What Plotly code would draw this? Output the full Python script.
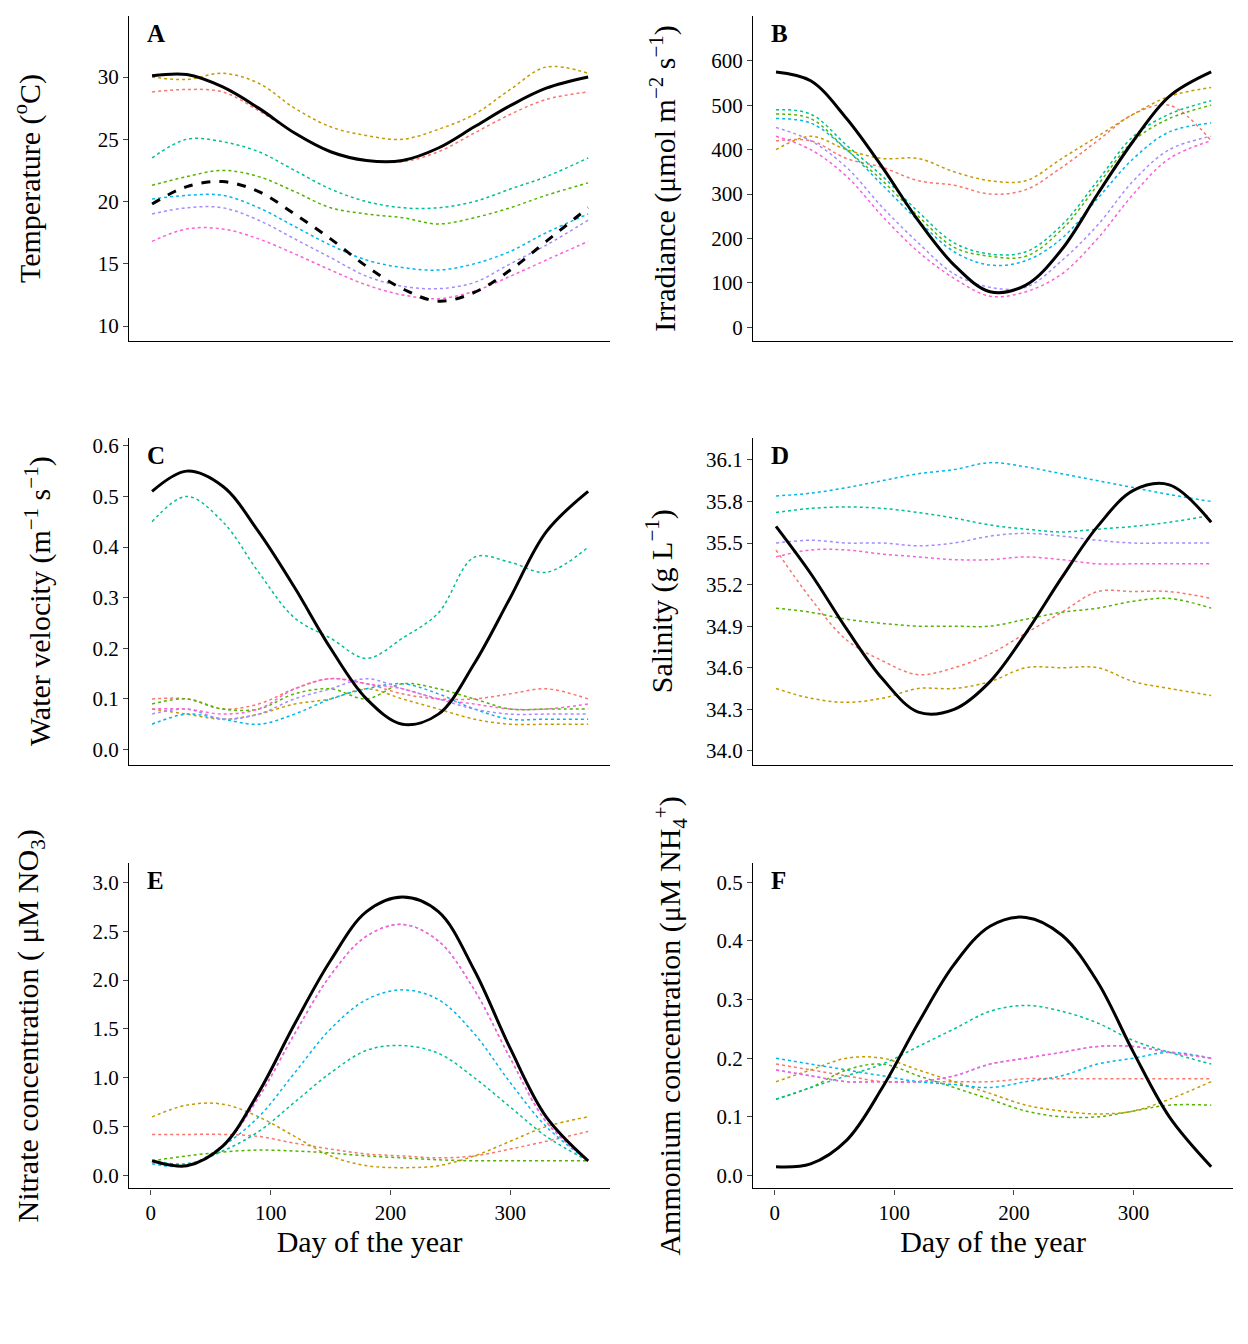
import plotly.graph_objects as go

days = [1, 30, 60, 90, 120, 150, 180, 210, 240, 270, 300, 330, 365]
colors = ["#F8766D", "#C49A00", "#53B400", "#00C094", "#00B6EB", "#A58AFF", "#FB61D7"]

# Panel A temperature
A_model = [30.1, 30.2, 29.2, 27.5, 25.5, 24.0, 23.3, 23.3, 24.3, 26.0, 27.7, 29.1, 30.0]
A_model2 = [19.8, 21.2, 21.6, 20.8, 19.0, 17.0, 14.8, 13.0, 12.0, 12.7, 14.5, 16.8, 19.5]
A_series = [
    [28.8, 29.0, 28.8, 27.3, 25.5, 24.0, 23.3, 23.2, 24.0, 25.5, 27.0, 28.2, 28.8],
    [30.0, 29.8, 30.3, 29.5, 27.5, 26.0, 25.3, 25.0, 25.8, 27.0, 29.0, 30.8, 30.3],
    [21.3, 22.0, 22.5, 22.0, 20.8, 19.5, 19.0, 18.7, 18.2, 18.7, 19.5, 20.5, 21.5],
    [23.5, 25.0, 24.8, 24.0, 22.5, 21.0, 20.0, 19.5, 19.5, 20.0, 21.0, 22.0, 23.5],
    [20.2, 20.5, 20.5, 19.5, 18.0, 16.5, 15.3, 14.7, 14.5, 15.0, 16.0, 17.5, 19.0],
    [19.0, 19.5, 19.5, 18.5, 17.0, 15.5, 14.0, 13.2, 13.0, 13.5, 15.0, 16.5, 18.5],
    [16.8, 17.8, 17.8, 17.0, 15.8, 14.5, 13.3, 12.5, 12.2, 12.8, 14.0, 15.3, 16.8],
]
# Panel B irradiance
B_model = [575, 555, 470, 360, 240, 140, 80, 95, 175, 300, 420, 520, 575]
B_series = [
    [420, 420, 380, 360, 330, 320, 300, 310, 360, 420, 480, 500, 420],
    [400, 430, 400, 380, 380, 350, 330, 330, 380, 430, 480, 520, 540],
    [480, 470, 400, 330, 250, 180, 160, 160, 220, 320, 420, 470, 500],
    [490, 480, 410, 340, 260, 190, 165, 170, 230, 330, 430, 480, 510],
    [470, 460, 400, 320, 240, 170, 140, 150, 200, 290, 380, 440, 460],
    [450, 420, 360, 270, 190, 120, 90, 90, 150, 230, 330, 400, 430],
    [430, 400, 340, 250, 170, 110, 70, 80, 120, 200, 300, 380, 420],
]
# Panel C water velocity
C_model = [0.51, 0.55, 0.52, 0.43, 0.32, 0.20, 0.10, 0.05, 0.07, 0.17, 0.30, 0.43, 0.51]
C_series = [
    [0.10, 0.10, 0.08, 0.09, 0.12, 0.14, 0.13, 0.11, 0.10, 0.10, 0.11, 0.12, 0.10],
    [0.08, 0.07, 0.06, 0.07, 0.09, 0.10, 0.12, 0.10, 0.08, 0.06, 0.05, 0.05, 0.05],
    [0.09, 0.10, 0.08, 0.08, 0.11, 0.12, 0.10, 0.13, 0.12, 0.10, 0.08, 0.08, 0.08],
    [0.45, 0.50, 0.45, 0.35, 0.26, 0.22, 0.18, 0.22, 0.27, 0.38, 0.37, 0.35, 0.40],
    [0.05, 0.07, 0.06, 0.05, 0.07, 0.10, 0.12, 0.13, 0.11, 0.08, 0.06, 0.06, 0.06],
    [0.07, 0.08, 0.06, 0.07, 0.10, 0.12, 0.14, 0.12, 0.10, 0.08, 0.07, 0.07, 0.07],
    [0.08, 0.08, 0.07, 0.08, 0.12, 0.14, 0.13, 0.12, 0.10, 0.09, 0.08, 0.08, 0.09],
]
# Panel D salinity
D_model = [35.62, 35.28, 34.88, 34.52, 34.28, 34.30, 34.50, 34.85, 35.25, 35.62, 35.88, 35.92, 35.65]
D_series = [
    [35.45, 35.10, 34.80, 34.65, 34.55, 34.60, 34.70, 34.85, 35.00, 35.15, 35.15, 35.15, 35.10],
    [34.45, 34.38, 34.35, 34.38, 34.45, 34.45, 34.50, 34.60, 34.60, 34.60, 34.50, 34.45, 34.40],
    [35.03, 35.00, 34.95, 34.92, 34.90, 34.90, 34.90, 34.95, 35.00, 35.03, 35.08, 35.10, 35.03],
    [35.72, 35.75, 35.76, 35.75, 35.72, 35.68, 35.63, 35.60, 35.58, 35.60, 35.62, 35.65, 35.70],
    [35.84, 35.86, 35.90, 35.95, 36.00, 36.03, 36.08, 36.05, 36.00, 35.95, 35.90, 35.85, 35.80],
    [35.50, 35.52, 35.50, 35.50, 35.48, 35.50, 35.55, 35.57, 35.55, 35.52, 35.50, 35.50, 35.50],
    [35.40, 35.45, 35.45, 35.42, 35.40, 35.38, 35.38, 35.40, 35.38, 35.35, 35.35, 35.35, 35.35],
]
# Panel E nitrate
E_model = [0.15, 0.10, 0.30, 0.85, 1.55, 2.20, 2.70, 2.85, 2.70, 2.10, 1.30, 0.60, 0.15]
E_series = [
    [0.42, 0.42, 0.42, 0.40, 0.33, 0.27, 0.22, 0.20, 0.18, 0.20, 0.27, 0.35, 0.45],
    [0.60, 0.72, 0.73, 0.60, 0.40, 0.20, 0.10, 0.08, 0.10, 0.20, 0.35, 0.50, 0.60],
    [0.15, 0.20, 0.24, 0.26, 0.25, 0.23, 0.20, 0.18, 0.16, 0.15, 0.15, 0.15, 0.15],
    [0.15, 0.12, 0.25, 0.45, 0.75, 1.05, 1.28, 1.33, 1.25, 1.00, 0.70, 0.40, 0.15],
    [0.12, 0.10, 0.30, 0.60, 1.05, 1.50, 1.80, 1.90, 1.80, 1.45, 0.95, 0.50, 0.15],
    [0.15, 0.10, 0.30, 0.80, 1.45, 2.05, 2.45, 2.57, 2.40, 1.90, 1.20, 0.55, 0.15],
    [0.15, 0.10, 0.30, 0.80, 1.45, 2.05, 2.45, 2.57, 2.40, 1.90, 1.20, 0.55, 0.15],
]
# Panel F ammonium
F_model = [0.015, 0.02, 0.06, 0.15, 0.26, 0.36, 0.425, 0.44, 0.41, 0.33, 0.21, 0.10, 0.015]
F_series = [
    [0.19, 0.18, 0.17, 0.16, 0.16, 0.16, 0.16, 0.165, 0.165, 0.165, 0.165, 0.165, 0.165],
    [0.16, 0.18, 0.20, 0.20, 0.18, 0.16, 0.14, 0.12, 0.11, 0.105, 0.11, 0.13, 0.16],
    [0.13, 0.15, 0.18, 0.19, 0.17, 0.15, 0.13, 0.11, 0.10, 0.10, 0.11, 0.12, 0.12],
    [0.13, 0.15, 0.17, 0.19, 0.22, 0.25, 0.28, 0.29, 0.28, 0.26, 0.23, 0.21, 0.19],
    [0.20, 0.19, 0.18, 0.17, 0.16, 0.155, 0.15, 0.16, 0.17, 0.19, 0.20, 0.21, 0.20],
    [0.18, 0.17, 0.16, 0.16, 0.16, 0.17, 0.19, 0.20, 0.21, 0.22, 0.22, 0.21, 0.20],
    [0.18, 0.17, 0.16, 0.16, 0.16, 0.17, 0.19, 0.20, 0.21, 0.22, 0.22, 0.21, 0.20],
]

panels = [
    ("A", A_series, A_model, "Temperature (<sup>o</sup>C)", [8.8, 34.9], [10, 15, 20, 25, 30], None, 48),
    ("B", B_series, B_model, "Irradiance (μmol m<sup>−2</sup> s<sup>−1</sup>)", [-31, 701], [0, 100, 200, 300, 400, 500, 600], None, 26),
    ("C", C_series, C_model, "Water velocity (m<sup>−1</sup> s<sup>−1</sup>)", [-0.03, 0.616], [0, 0.1, 0.2, 0.3, 0.4, 0.5, 0.6], "0.1f", 32),
    ("D", D_series, D_model, "Salinity (g L<sup>−1</sup>)", [33.9, 36.26], [34.0, 34.3, 34.6, 34.9, 35.2, 35.5, 35.8, 36.1], "0.1f", 24),
    ("E", E_series, E_model, "Nitrate concentration ( μM NO<sub>3</sub>)", [-0.133, 3.194], [0, 0.5, 1, 1.5, 2, 2.5, 3], "0.1f", 44),
    ("F", F_series, F_model, "Ammonium concentration (μM NH<sub>4</sub><sup>+</sup>)", [-0.022, 0.532], [0, 0.1, 0.2, 0.3, 0.4, 0.5], "0.1f", 26),
]

W, H, OX, OY = 1232, 1328, 8, 8
def px(v): return (v - OX) / W
def py(v): return 1 - (v - OY) / H
xdom = [[px(129), px(610)], [px(753), px(1233)]]
ydom = [[py(338), py(12)], [py(763), py(435)], [py(1188), py(862)]]

fig = go.Figure()
font = "Liberation Serif"
layout = dict(width=W, height=H, margin=dict(l=0, r=0, t=0, b=0),
              plot_bgcolor="white", paper_bgcolor="white", showlegend=False,
              font=dict(family=font, color="black", size=21))
annotations = []
for i, (lab, series, model, ytitle, yr, yticks, fmt, so) in enumerate(panels):
    k = "" if i == 0 else str(i + 1)
    col, row = i % 2, i // 2
    for s, c in zip(series, colors):
        fig.add_trace(go.Scatter(x=days, y=s, mode="lines", line=dict(color=c, width=1.5, dash="dot", shape="spline"),
                                 xaxis="x" + k, yaxis="y" + k))
    fig.add_trace(go.Scatter(x=days, y=model, mode="lines", line=dict(color="black", width=3, shape="spline"),
                             xaxis="x" + k, yaxis="y" + k))
    if lab == "A":
        fig.add_trace(go.Scatter(x=days, y=A_model2, mode="lines",
                                 line=dict(color="black", width=3, dash="dash", shape="spline"),
                                 xaxis="x" + k, yaxis="y" + k))
    bottom = row == 2
    layout["xaxis" + k] = dict(domain=xdom[col], anchor="y" + k, range=[-18.25, 383.25],
                               showline=True, linecolor="black", linewidth=1.2, showgrid=False, zeroline=False,
                               ticks="outside" if bottom else "", showticklabels=bottom,
                               tickvals=[0, 100, 200, 300], ticklen=5, tickfont=dict(size=21),
                               title=dict(text="Day of the year" if bottom else "", font=dict(size=30), standoff=0))
    layout["yaxis" + k] = dict(domain=ydom[row], anchor="x" + k, range=yr, tickvals=yticks,
                               tickformat=fmt if fmt else None,
                               showline=True, linecolor="black", linewidth=1.2, showgrid=False, zeroline=False,
                               ticks="outside", ticklen=5, tickfont=dict(size=21),
                               title=dict(text=ytitle, font=dict(size=30), standoff=so))
    annotations.append(dict(text="<b>" + lab + "</b>", x=xdom[col][0] + 16 / W, y=ydom[row][1] - 2 / H,
                            xref="paper", yref="paper", xanchor="left", yanchor="top", showarrow=False,
                            font=dict(size=25, family=font)))
layout["annotations"] = annotations
fig.update_layout(**layout)
fig.write_html("out.html")
